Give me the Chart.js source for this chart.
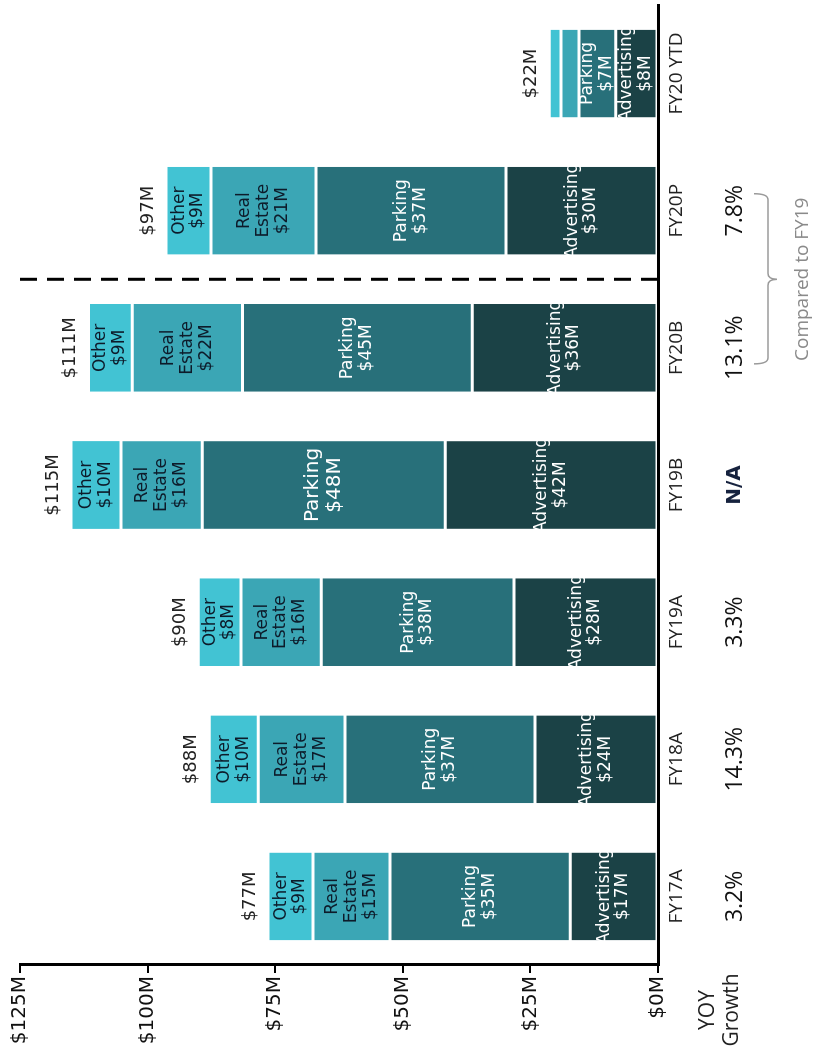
<!DOCTYPE html>
<html>
<head>
<meta charset="utf-8">
<script src="https://cdn.jsdelivr.net/npm/chart.js@4.4.1/dist/chart.umd.min.js"></script>
<style>
  html, body { margin: 0; padding: 0; background: #fff; overflow: hidden; width: 818px; height: 1057px; }
  #wrap { position: absolute; left: 0; top: 0; width: 1057px; height: 818px;
          transform-origin: 0 0; transform: translate(0px, 1057px) rotate(-90deg); }
</style>
</head>
<body>
<div id="wrap"><canvas id="c" width="1057" height="818"></canvas></div>
<script>
// ---- data ----
const categories = ['FY17A', 'FY18A', 'FY19A', 'FY19B', 'FY20B', 'FY20P', 'FY20 YTD'];
const advertising = [17.2, 24.1, 28.2, 41.7, 36.4, 29.8, 8.3];
const parking     = [35.3, 37.2, 37.8, 47.6, 45.0, 37.2, 7.2];
const realEstate  = [15.1, 17.0, 15.7, 15.9, 21.6, 20.6, 3.5];
const other       = [8.8, 9.6, 8.4, 9.8, 8.6, 8.8, 2.3];
const totalLabels = ['$77M', '$88M', '$90M', '$115M', '$111M', '$97M', '$22M'];
const yoyGrowth   = ['3.2%', '14.3%', '3.3%', 'N/A', '13.1%', '7.8%', ''];
const valueTicks  = [0, 25, 50, 75, 100, 125];
const seriesNames = ['Advertising', 'Parking', 'Real Estate', 'Other'];
const yoyTitle    = ['YOY', 'Growth'];
const braceNote   = 'Compared to FY19';

const colors = ['#1b4246', '#28707a', '#3ba6b5', '#42c3d3'];
const labelColors = ['#ffffff', '#ffffff', '#0d1b2a', '#0d1b2a'];
const seriesData = [advertising, parking, realEstate, other];

const overlay = {
  id: 'overlay',
  afterDraw(chart) {
    const ctx = chart.ctx;
    const xs = chart.scales.x;
    const area = chart.chartArea;
    ctx.save();
    ctx.textAlign = 'center';
    ctx.textBaseline = 'middle';

    // segment labels
    seriesData.forEach((arr, di) => {
      const meta = chart.getDatasetMeta(di);
      meta.data.forEach((bar, i) => {
        const h = Math.abs(bar.base - bar.y);
        if (h < 25) return;
        const v = '$' + Math.round(arr[i]) + 'M';
        let lines;
        if (di === 2) lines = ['Real', 'Estate', v];
        else lines = [seriesNames[di], v];
        const big = (di === 1 && i === 3);
        const size = big ? 20 : 17;
        const lh = size * 1.1;
        ctx.font = size + 'px "DejaVu Sans"';
        ctx.fillStyle = labelColors[di];
        const cy = (bar.y + bar.base) / 2;
        const y0 = cy - (lines.length - 1) * lh / 2;
        lines.forEach((t, k) => ctx.fillText(t, bar.x, y0 + k * lh));
      });
    });

    // totals
    const topMeta = chart.getDatasetMeta(3);
    ctx.font = '18px "DejaVu Sans"';
    ctx.fillStyle = '#222';
    topMeta.data.forEach((bar, i) => {
      ctx.fillText(totalLabels[i], bar.x, bar.y - 18);
    });

    // YOY values
    yoyGrowth.forEach((t, i) => {
      if (!t) return;
      const x = xs.getPixelForValue(i);
      if (t === 'N/A') { ctx.font = 'bold 20px "DejaVu Sans"'; ctx.fillStyle = '#16223e'; }
      else { ctx.font = '23px "Open Sans"'; ctx.fillStyle = '#111'; }
      ctx.fillText(t, x, 735);
    });

    // YOY Growth title
    ctx.font = '21px "Open Sans"';
    ctx.fillStyle = '#222';
    ctx.fillText(yoyTitle[0], 47, 708);
    ctx.fillText(yoyTitle[1], 47, 732);

    // dashed divider between FY20B and FY20P
    const xm = (xs.getPixelForValue(4) + xs.getPixelForValue(5)) / 2;
    ctx.strokeStyle = '#000';
    ctx.lineWidth = 3;
    ctx.setLineDash([17, 10]);
    ctx.beginPath();
    ctx.moveTo(xm, area.bottom);
    ctx.lineTo(xm, 15);
    ctx.stroke();
    ctx.setLineDash([]);

    // brace
    const x1 = xs.getPixelForValue(4) - 16, x2 = xs.getPixelForValue(5) + 17;
    const by = 768;
    ctx.strokeStyle = '#9a9a9a';
    ctx.lineWidth = 1.5;
    ctx.beginPath();
    ctx.moveTo(x1, by - 14);
    ctx.quadraticCurveTo(x1, by, x1 + 6, by);
    ctx.lineTo(xm - 6, by);
    ctx.quadraticCurveTo(xm, by, xm, by + 9);
    ctx.quadraticCurveTo(xm, by, xm + 6, by);
    ctx.lineTo(x2 - 6, by);
    ctx.quadraticCurveTo(x2, by, x2, by - 14);
    ctx.stroke();

    ctx.font = '19px "Open Sans"';
    ctx.fillStyle = '#8a8a8a';
    ctx.fillText(braceNote, xm, 803);
    ctx.restore();
  }
};

new Chart(document.getElementById('c'), {
  type: 'bar',
  data: {
    labels: categories,
    datasets: seriesData.map((d, i) => ({
      label: seriesNames[i],
      data: d,
      backgroundColor: colors[i],
      borderColor: '#ffffff',
      borderWidth: { top: 1.5, bottom: 1.5, left: 0, right: 0 },
      borderSkipped: false,
      categoryPercentage: 1,
      barPercentage: 0.64
    }))
  },
  options: {
    responsive: false,
    animation: false,
    devicePixelRatio: 1,
    layout: { padding: { top: 20, right: 5, left: 0, bottom: 0 } },
    plugins: { legend: { display: false }, tooltip: { enabled: false } },
    scales: {
      x: {
        stacked: true,
        z: 1,
        grid: { display: false, drawTicks: false },
        border: { display: true, color: '#000', width: 3 },
        ticks: { font: { family: 'Open Sans', size: 19 }, color: '#222', padding: 7, maxRotation: 0 },
        afterFit(s) { s.height = 160; }
      },
      y: {
        stacked: true,
        z: 1,
        min: 0,
        max: 125,
        afterBuildTicks(s) { s.ticks = valueTicks.map(v => ({ value: v })); },
        grid: { display: true, drawOnChartArea: false, drawTicks: true, tickLength: 8, color: '#000', lineWidth: 2 },
        border: { display: true, color: '#000', width: 3 },
        ticks: { callback: v => '$' + v + 'M', font: { family: 'DejaVu Sans', size: 20 }, color: '#111', padding: 3 },
        afterFit(s) { s.width = 92; }
      }
    }
  },
  plugins: [overlay]
});
</script>
</body>
</html>
